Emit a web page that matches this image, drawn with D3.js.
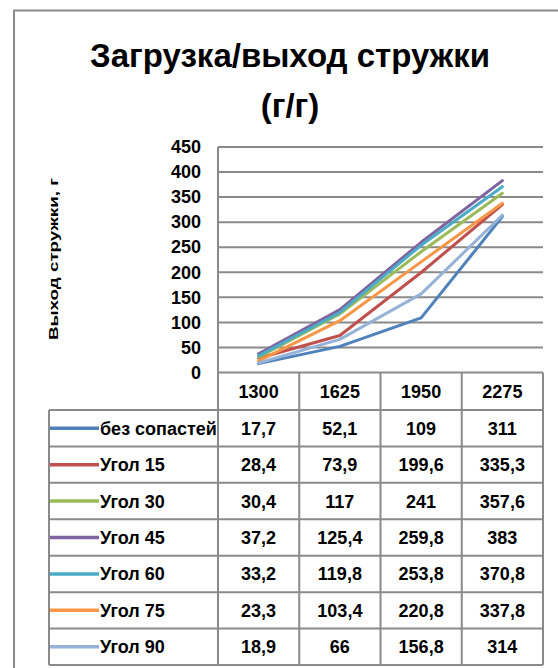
<!DOCTYPE html>
<html>
<head>
<meta charset="utf-8">
<script src="https://cdn.jsdelivr.net/npm/d3@7"></script>
<style>
  html, body { margin: 0; padding: 0; background: #fff; }
  svg { display: block; }
  text { font-family: "Liberation Sans", Arial, sans-serif; font-weight: bold; fill: #000; }
</style>
</head>
<body>
<svg id="chart" width="558" height="668"></svg>
<script>
// Loading speed categories (x axis / table header)
const categories = ["1300", "1625", "1950", "2275"];

// Series names, in drawing / table order
const seriesNames = ["без сопастей", "Угол 15", "Угол 30", "Угол 45", "Угол 60", "Угол 75", "Угол 90"];

// Chip output per series, grams
const bezLopastei = [17.7, 52.1, 109, 311];
const ugol15 = [28.4, 73.9, 199.6, 335.3];
const ugol30 = [30.4, 117, 241, 357.6];
const ugol45 = [37.2, 125.4, 259.8, 383];
const ugol60 = [33.2, 119.8, 253.8, 370.8];
const ugol75 = [23.3, 103.4, 220.8, 337.8];
const ugol90 = [18.9, 66, 156.8, 314];

const seriesValues = [bezLopastei, ugol15, ugol30, ugol45, ugol60, ugol75, ugol90];
const seriesColors = ["#4F81BD", "#C0504D", "#9BBB59", "#8064A2", "#4BACC6", "#F79646", "#95B3D7"];

// Value axis ticks
const yTicks = [0, 50, 100, 150, 200, 250, 300, 350, 400, 450];

const titleLines = ["Загрузка/выход  стружки", "(г/г)"];
const yAxisTitle = "Выход стружки, г";

const svg = d3.select("#chart");
const gridColor = "#8a8a8a";

// Layout
const plotLeft = 218, plotRight = 543, plotTop = 147, plotBottom = 372.5;
const tableLeft = 49, headerBottom = 410, tableBottom = 665;

const x = d3.scaleBand().domain(categories).range([plotLeft, plotRight]).padding(0);
const y = d3.scaleLinear().domain([0, 450]).range([plotBottom, plotTop]);
const rowY = d3.scaleBand().domain(seriesNames).range([headerBottom, tableBottom]).padding(0);

// Outer chart frame (partly outside the window)
svg.append("rect")
  .attr("x", 14).attr("y", 10.5)
  .attr("width", 600).attr("height", 700)
  .attr("fill", "none").attr("stroke", gridColor).attr("stroke-width", 2);

// Title
svg.append("text")
  .attr("x", 290).attr("y", 67)
  .attr("text-anchor", "middle")
  .attr("font-size", 33)
  .text(titleLines[0]);
svg.append("text")
  .attr("x", 290).attr("y", 117)
  .attr("text-anchor", "middle")
  .attr("font-size", 33)
  .text(titleLines[1]);

// Axis title
svg.append("text")
  .attr("transform", "translate(58,259) rotate(-90)")
  .attr("text-anchor", "middle")
  .attr("font-size", 13)
  .attr("textLength", 162)
  .attr("lengthAdjust", "spacingAndGlyphs")
  .text(yAxisTitle);

// Horizontal gridlines
svg.append("g").selectAll("line")
  .data(yTicks)
  .join("line")
  .attr("x1", plotLeft).attr("x2", plotRight)
  .attr("y1", d => y(d)).attr("y2", d => y(d))
  .attr("stroke", gridColor).attr("stroke-width", 2);

// Value axis labels
const yAxis = svg.append("g")
  .attr("transform", `translate(${plotLeft},0)`)
  .call(d3.axisLeft(y).tickValues(yTicks).tickSize(0).tickPadding(17));
yAxis.select(".domain").remove();
yAxis.selectAll("text")
  .attr("font-size", 18)
  .attr("font-family", null)
  .style("font-family", "'Liberation Sans', Arial, sans-serif")
  .style("font-weight", "bold")
  .attr("fill", "#000");

// Data table grid
const tg = svg.append("g").attr("stroke", gridColor).attr("stroke-width", 2).attr("fill", "none");
// vertical line on the plot's left edge down through the table
tg.append("line").attr("x1", plotLeft).attr("x2", plotLeft).attr("y1", plotTop).attr("y2", tableBottom);
// category column separators
categories.forEach(c => {
  const xr = x(c) + x.bandwidth();
  tg.append("line").attr("x1", xr).attr("x2", xr).attr("y1", plotBottom).attr("y2", tableBottom);
});
// legend column left edge
tg.append("line").attr("x1", tableLeft).attr("x2", tableLeft).attr("y1", headerBottom).attr("y2", tableBottom);
// row separators
seriesNames.forEach(s => {
  tg.append("line").attr("x1", tableLeft).attr("x2", plotRight).attr("y1", rowY(s)).attr("y2", rowY(s));
});
tg.append("line").attr("x1", tableLeft).attr("x2", plotRight).attr("y1", tableBottom).attr("y2", tableBottom);

// Header row: categories
svg.append("g").selectAll("text")
  .data(categories)
  .join("text")
  .attr("x", d => x(d) + x.bandwidth() / 2)
  .attr("y", (plotBottom + headerBottom) / 2)
  .attr("dy", "0.36em")
  .attr("text-anchor", "middle")
  .attr("font-size", 18)
  .text(d => d);

const fmt = v => String(v).replace(".", ",");

// Table rows: legend key + values
seriesNames.forEach((name, i) => {
  const cy = rowY(name) + rowY.bandwidth() / 2;
  svg.append("line")
    .attr("x1", 50).attr("x2", 99)
    .attr("y1", cy).attr("y2", cy)
    .attr("stroke", seriesColors[i]).attr("stroke-width", 3.5);
  svg.append("text")
    .attr("x", 100).attr("y", cy).attr("dy", "0.36em")
    .attr("font-size", 18)
    .text(name);
  svg.append("g").selectAll("text")
    .data(seriesValues[i])
    .join("text")
    .attr("x", (d, j) => x(categories[j]) + x.bandwidth() / 2)
    .attr("y", cy).attr("dy", "0.36em")
    .attr("text-anchor", "middle")
    .attr("font-size", 18)
    .text(d => fmt(d));
});

// Series lines
const line = d3.line()
  .x((d, j) => x(categories[j]) + x.bandwidth() / 2)
  .y(d => y(d));

svg.append("g").selectAll("path")
  .data(seriesValues)
  .join("path")
  .attr("d", d => line(d))
  .attr("fill", "none")
  .attr("stroke", (d, i) => seriesColors[i])
  .attr("stroke-width", 3)
  .attr("stroke-linejoin", "round")
  .attr("stroke-linecap", "round");
</script>
</body>
</html>
